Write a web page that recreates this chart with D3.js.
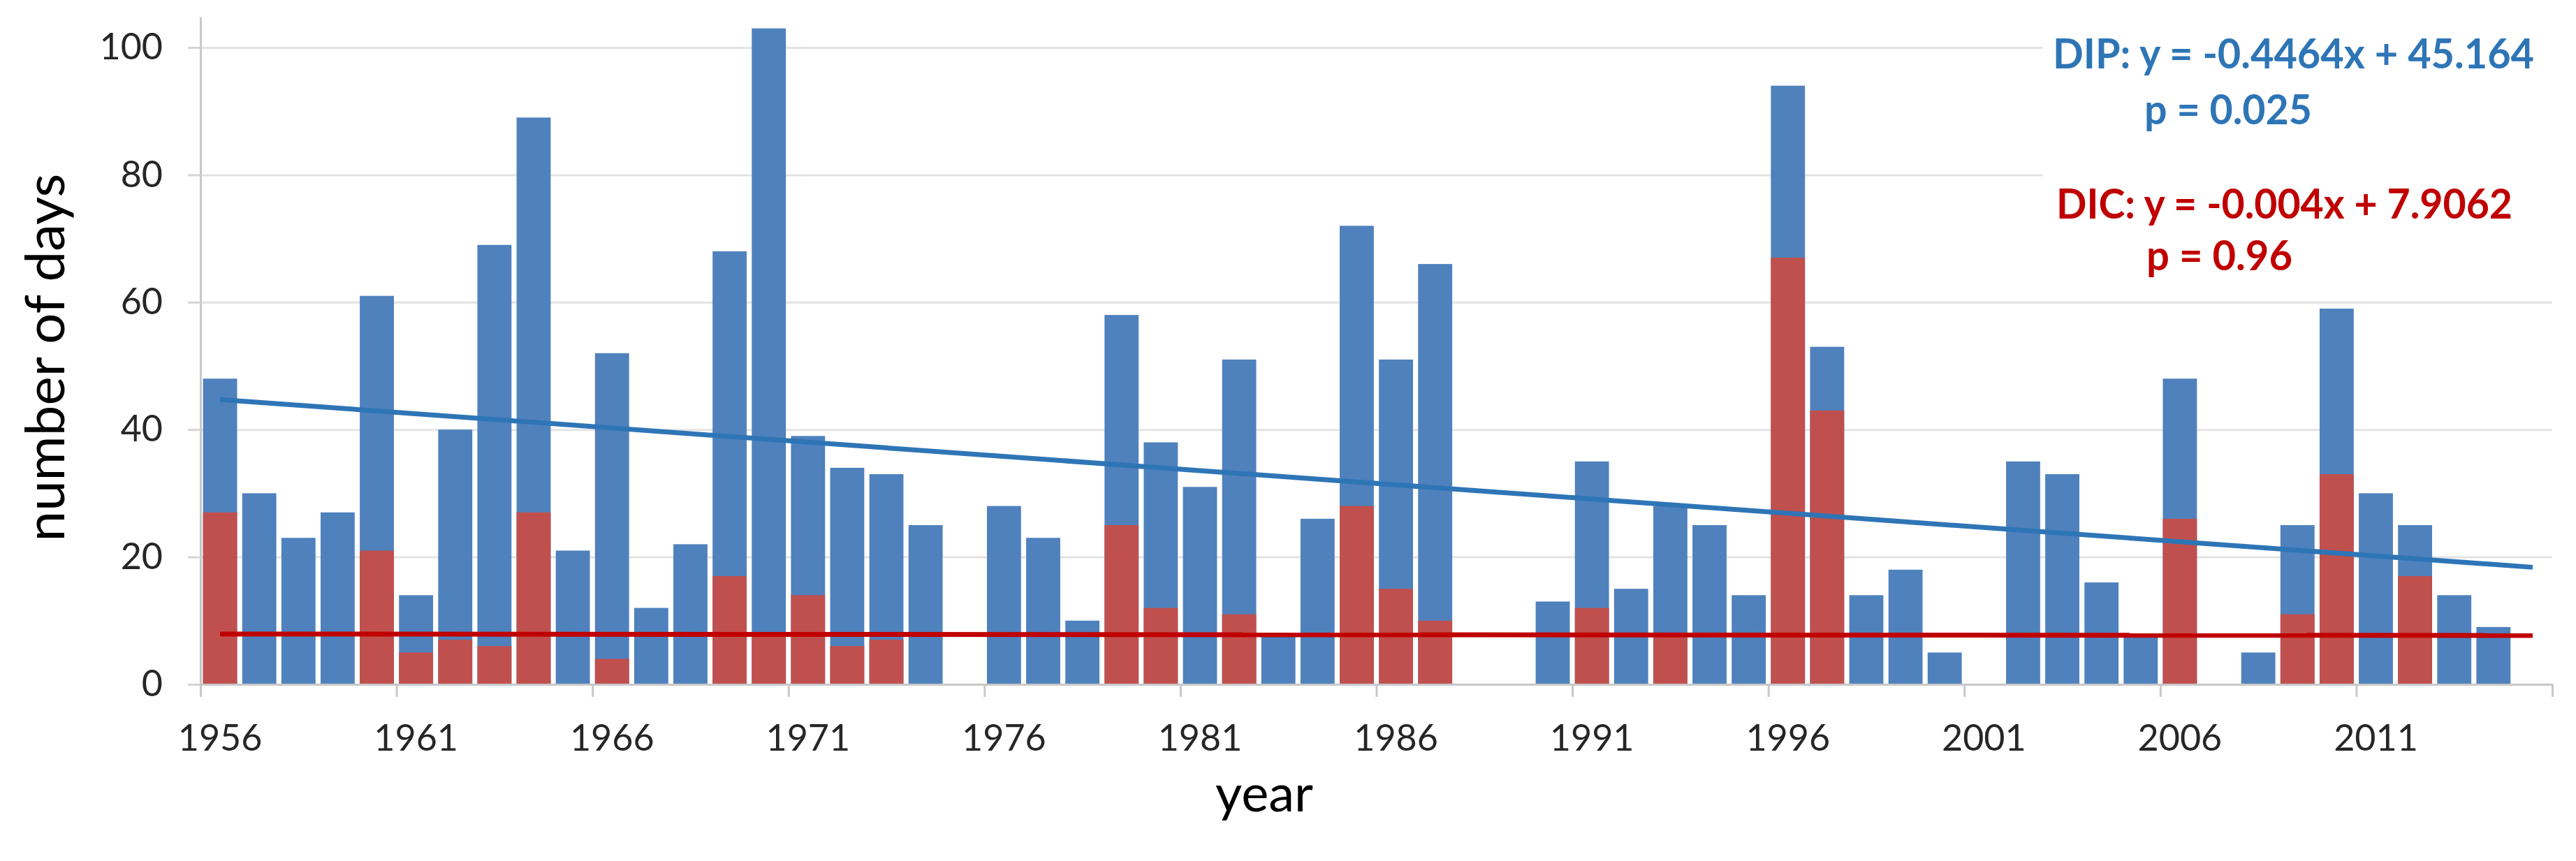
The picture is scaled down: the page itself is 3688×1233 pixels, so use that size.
<!DOCTYPE html>
<html>
<head>
<meta charset="utf-8">
<script src="https://cdn.jsdelivr.net/npm/d3@7"></script>
<style>
    html, body { margin: 0; padding: 0; background: #ffffff; }
    svg { display: block; }
</style>
</head>
<body>
<div id="chart"></div>
<script>
// Years on the category axis
const years = d3.range(1956, 2016);

// DIP: number of days per year (blue, full bar height)
const dipDays = [
    48, 30, 23, 27, 61, 14, 40, 69, 89, 21,
    52, 12, 22, 68, 103, 39, 34, 33, 25, 0,
    28, 23, 10, 58, 38, 31, 51, 8, 26, 72,
    51, 66, 0, 0, 13, 35, 15, 28, 25, 14,
    94, 53, 14, 18, 5, 0, 35, 33, 16, 8,
    48, 0, 5, 25, 59, 30, 25, 14, 9, 0
];

// DIC: number of days per year (red, drawn over the blue bar)
const dicDays = [
    27, 0, 0, 0, 21, 5, 7, 6, 27, 0,
    4, 0, 0, 17, 8, 14, 6, 7, 0, 0,
    0, 0, 0, 25, 12, 0, 11, 0, 0, 28,
    15, 10, 0, 0, 0, 12, 0, 8, 0, 0,
    67, 43, 0, 0, 0, 0, 0, 0, 0, 0,
    26, 0, 0, 11, 33, 0, 17, 0, 0, 0
];

// Linear trend lines as printed on the chart (x = 1 .. 60)
const trendNames = ["DIP", "DIC"];
const trendSlopes = [-0.4464, -0.004];
const trendIntercepts = [45.164, 7.9062];
const trendLabels = ["DIP: y = -0.4464x + 45.164", "DIC: y = -0.004x + 7.9062"];
const pLabels = ["p = 0.025", "p = 0.96"];

// Axis ticks
const yTicks = [0, 20, 40, 60, 80, 100];
const labelYears = [1956, 1961, 1966, 1971, 1976, 1981, 1986, 1991, 1996, 2001, 2006, 2011];

const width = 3688, height = 1233;
const plot = { left: 287, right: 3654, top: 24, bottom: 980 };
const blue = "#4f81bd", red = "#c0504d";
const trendColors = ["#2e75b6", "#c00000"];
const font = "Lato, 'Open Sans', sans-serif";

const svg = d3.select("#chart")
    .append("svg")
    .attr("width", width)
    .attr("height", height)
    .style("background", "#ffffff");

const x = d3.scaleBand()
    .domain(years)
    .range([plot.left, plot.right])
    .paddingInner(0.13)
    .paddingOuter(0.065);

// category boundaries, used for the tick marks between years
const xEdge = d3.scaleLinear().domain([0, years.length]).range([plot.left, plot.right]);

const y = d3.scaleLinear()
    .domain([0, (plot.bottom - plot.top) / 9.12])
    .range([plot.bottom, plot.top]);

// gridlines
svg.append("g")
    .attr("transform", `translate(${plot.left},0)`)
    .call(d3.axisLeft(y).tickValues(yTicks.filter(v => v > 0)).tickSize(-(plot.right - plot.left)).tickFormat(""))
    .call(g => g.select(".domain").remove())
    .call(g => g.selectAll("line").attr("stroke", "#e3e3e3").attr("stroke-width", 3));

// blue bars (DIP)
svg.append("g").selectAll("rect")
    .data(years.map((yr, i) => ({ yr, v: dipDays[i] })).filter(d => d.v > 0))
    .enter().append("rect")
    .attr("x", d => x(d.yr))
    .attr("width", x.bandwidth())
    .attr("y", d => y(d.v))
    .attr("height", d => y(0) - y(d.v))
    .attr("fill", blue);

// red bars (DIC)
svg.append("g").selectAll("rect")
    .data(years.map((yr, i) => ({ yr, v: dicDays[i] })).filter(d => d.v > 0))
    .enter().append("rect")
    .attr("x", d => x(d.yr))
    .attr("width", x.bandwidth())
    .attr("y", d => y(d.v))
    .attr("height", d => y(0) - y(d.v))
    .attr("fill", red);

// y axis with outside ticks
svg.append("g")
    .attr("transform", `translate(${plot.left},0)`)
    .call(d3.axisLeft(y).tickValues(yTicks).tickSize(18).tickSizeOuter(0).tickPadding(36))
    .call(g => g.select(".domain").attr("stroke", "#c8c8c8").attr("stroke-width", 3))
    .call(g => g.selectAll("line").attr("stroke", "#d4d4d4").attr("stroke-width", 3))
    .call(g => g.selectAll("text")
        .attr("font-family", font)
        .attr("font-size", 52)
        .attr("fill", "#262626"));

// x axis line and ticks at category boundaries
svg.append("g")
    .attr("transform", `translate(0,${plot.bottom})`)
    .call(d3.axisBottom(xEdge).tickValues(d3.range(0, years.length + 1, 5)).tickSize(18).tickSizeOuter(0).tickFormat(""))
    .call(g => g.select(".domain").attr("stroke", "#c8c8c8").attr("stroke-width", 3))
    .call(g => g.selectAll("line").attr("stroke", "#c8c8c8").attr("stroke-width", 3));

// x labels centred on their year
svg.append("g")
    .attr("transform", `translate(0,${plot.bottom})`)
    .call(d3.axisBottom(x).tickValues(labelYears).tickSize(0).tickPadding(58))
    .call(g => g.select(".domain").remove())
    .call(g => g.selectAll("text")
        .attr("font-family", font)
        .attr("font-size", 52)
        .attr("fill", "#262626"));

// trend lines
trendNames.forEach((name, k) => {
    const ends = [1, years.length].map(n => ({
        px: x(years[n - 1]) + x.bandwidth() / 2,
        v: trendSlopes[k] * n + trendIntercepts[k]
    }));
    svg.append("path")
        .datum(ends)
        .attr("d", d3.line().x(d => d.px).y(d => y(d.v)))
        .attr("fill", "none")
        .attr("stroke", trendColors[k])
        .attr("stroke-width", 7);
});

// white text boxes with the regression equations
const boxes = [
    { top: 30, bottom: 205, eqY: 98, eqX: 2939, eqW: 689, pY: 178, pX: 3070, pW: 240 },
    { top: 232, bottom: 410, eqY: 313, eqX: 2944, eqW: 653, pY: 387, pX: 3073, pW: 209 }
];
boxes.forEach((b, k) => {
    svg.append("rect")
        .attr("x", 2925)
        .attr("y", b.top)
        .attr("width", plot.right - 2925 + 2)
        .attr("height", b.bottom - b.top)
        .attr("fill", "#ffffff");
    svg.append("text")
        .attr("x", b.eqX)
        .attr("y", b.eqY)
        .attr("textLength", b.eqW)
        .attr("lengthAdjust", "spacingAndGlyphs")
        .attr("font-family", font)
        .attr("font-weight", "bold")
        .attr("font-size", 60)
        .attr("fill", trendColors[k])
        .text(trendLabels[k]);
    svg.append("text")
        .attr("x", b.pX)
        .attr("y", b.pY)
        .attr("textLength", b.pW)
        .attr("lengthAdjust", "spacingAndGlyphs")
        .attr("font-family", font)
        .attr("font-weight", "bold")
        .attr("font-size", 60)
        .attr("fill", trendColors[k])
        .text(pLabels[k]);
});

// axis titles
svg.append("text")
    .attr("transform", "translate(92,512) rotate(-90)")
    .attr("text-anchor", "middle")
    .attr("font-family", font)
    .attr("font-size", 78)
    .attr("fill", "#000000")
    .text("number of days");

svg.append("text")
    .attr("x", 1810)
    .attr("y", 1162)
    .attr("text-anchor", "middle")
    .attr("font-family", font)
    .attr("font-size", 74)
    .attr("fill", "#000000")
    .text("year");
</script>
</body>
</html>
